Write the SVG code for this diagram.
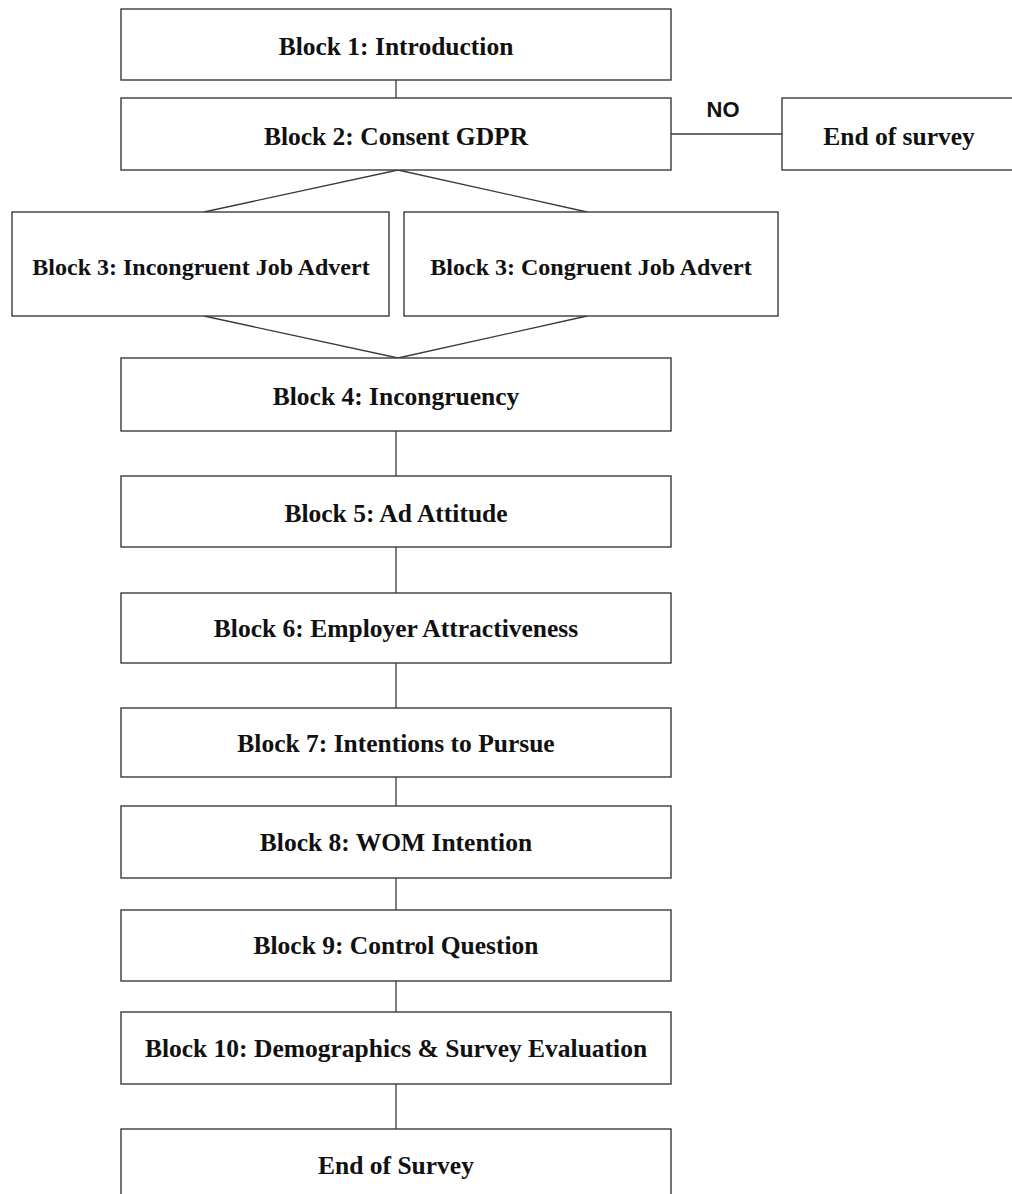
<svg xmlns="http://www.w3.org/2000/svg" width="1012" height="1194" viewBox="0 0 1012 1194">
<style>
.box{fill:#fff;stroke:#3a3a3a;stroke-width:1.4}
.t{font-family:"Liberation Serif","Times New Roman",serif;font-weight:bold;font-size:25.5px;fill:#111;text-anchor:middle}
.s{font-size:24px}
.c{stroke:#3a3a3a;stroke-width:1.3;fill:none}
.lbl{font-family:"Liberation Sans",Arial,sans-serif;font-weight:bold;font-size:22px;fill:#111;text-anchor:middle}
</style>
<rect width="1012" height="1194" fill="#fff"/>
<g id="connectors">
<line class="c" x1="396" y1="80" x2="396" y2="98"/>
<line class="c" x1="671" y1="134" x2="782" y2="134"/>
<text class="lbl" x="723" y="117">NO</text>
<polyline class="c" points="204,212 398,170 587,212"/>
<polyline class="c" points="204,316 398,358 587,316"/>
<line class="c" x1="396" y1="431" x2="396" y2="476"/>
<line class="c" x1="396" y1="547" x2="396" y2="593"/>
<line class="c" x1="396" y1="663" x2="396" y2="708"/>
<line class="c" x1="396" y1="777" x2="396" y2="806"/>
<line class="c" x1="396" y1="878" x2="396" y2="910"/>
<line class="c" x1="396" y1="981" x2="396" y2="1012"/>
<line class="c" x1="396" y1="1084" x2="396" y2="1129"/>
</g>
<g id="block1"><rect class="box" x="121" y="9" width="550" height="71"/><text class="t" x="396" y="55">Block 1: Introduction</text></g>
<g id="block2"><rect class="box" x="121" y="98" width="550" height="72"/><text class="t" x="396" y="145">Block 2: Consent GDPR</text></g>
<g id="endsurvey1"><rect class="box" x="782" y="98" width="240" height="72"/><text class="t" x="899" y="145">End of survey</text></g>
<g id="block3a"><rect class="box" x="12" y="212" width="377" height="104"/><text class="t s" x="201" y="275">Block 3: Incongruent Job Advert</text></g>
<g id="block3b"><rect class="box" x="404" y="212" width="374" height="104"/><text class="t s" x="591" y="275">Block 3: Congruent Job Advert</text></g>
<g id="block4"><rect class="box" x="121" y="358" width="550" height="73"/><text class="t" x="396" y="405">Block 4: Incongruency</text></g>
<g id="block5"><rect class="box" x="121" y="476" width="550" height="71"/><text class="t" x="396" y="522">Block 5: Ad Attitude</text></g>
<g id="block6"><rect class="box" x="121" y="593" width="550" height="70"/><text class="t" x="396" y="637">Block 6: Employer Attractiveness</text></g>
<g id="block7"><rect class="box" x="121" y="708" width="550" height="69"/><text class="t" x="396" y="752">Block 7: Intentions to Pursue</text></g>
<g id="block8"><rect class="box" x="121" y="806" width="550" height="72"/><text class="t" x="396" y="851">Block 8: WOM Intention</text></g>
<g id="block9"><rect class="box" x="121" y="910" width="550" height="71"/><text class="t" x="396" y="954">Block 9: Control Question</text></g>
<g id="block10"><rect class="box" x="121" y="1012" width="550" height="72"/><text class="t" x="396" y="1057">Block 10: Demographics &amp; Survey Evaluation</text></g>
<g id="endsurvey2"><rect class="box" x="121" y="1129" width="550" height="80"/><text class="t" x="396" y="1174">End of Survey</text></g>
</svg>
